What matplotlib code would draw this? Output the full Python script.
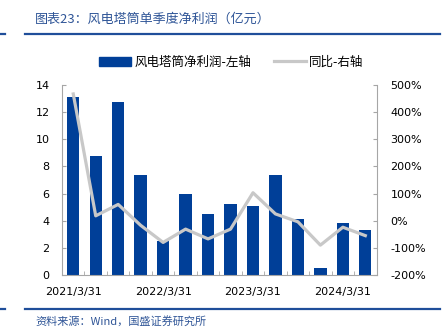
import numpy as np
import matplotlib
matplotlib.use("Agg")
import matplotlib.pyplot as plt
from matplotlib.patches import Patch
from matplotlib.lines import Line2D

plt.rcParams['font.family'] = ['Noto Sans CJK SC', 'DejaVu Sans']
plt.rcParams['axes.unicode_minus'] = False

# quarterly data
quarters = ['2021/3/31', '2021/6/30', '2021/9/30', '2021/12/31',
            '2022/3/31', '2022/6/30', '2022/9/30', '2022/12/31',
            '2023/3/31', '2023/6/30', '2023/9/30', '2023/12/31',
            '2024/3/31', '2024/6/30']
profit = [13.1, 8.8, 12.75, 7.4, 2.5, 6.0, 4.5, 5.2, 5.1, 7.4, 4.1, 0.5, 3.8, 3.3]
yoy = [467, 18, 60, -17, -80, -31, -67, -31, 103, 25, -4, -90, -24, -55]

BLUE = '#003F98'
GRAY = '#C8C8C8'
TITLE_BLUE = '#2F5597'
SPINE = '#A6A6A6'

fig = plt.figure(figsize=(4.43, 3.32), dpi=100)
ax = fig.add_axes([0.14, 0.1717, 0.71, 0.5723])
ax2 = ax.twinx()

x = np.arange(len(quarters))
ax.bar(x, profit, width=0.55, color=BLUE, zorder=2)
ax2.plot(x, yoy, color=GRAY, linewidth=2.3, zorder=3)

ax.set_xlim(-0.5, len(quarters) - 0.5)
ax.set_ylim(0, 14)
ax.set_yticks(range(0, 15, 2))
ax2.set_ylim(-200, 500)
ax2.set_yticks(range(-200, 501, 100))
ax2.set_yticklabels([f'{v}%' for v in range(-200, 501, 100)])

ax.set_xticks(x[::4])
ax.set_xticklabels(quarters[::4])
ax.set_xticks(np.arange(-0.5, len(quarters), 1), minor=True)
ax.tick_params(axis='x', which='major', length=0, pad=9, labelsize=8)
ax.tick_params(axis='x', which='minor', direction='in', length=3, color=SPINE)
ax.tick_params(axis='y', direction='in', length=3, color=SPINE, pad=9, labelsize=8)
ax2.tick_params(axis='y', direction='in', length=3, color=SPINE, pad=10, labelsize=8)
for lab in ax.get_xticklabels() + ax.get_yticklabels() + ax2.get_yticklabels():
    lab.set_family('DejaVu Sans')

for a in (ax, ax2):
    a.spines['top'].set_visible(False)
    for s in ('left', 'right', 'bottom'):
        a.spines[s].set_color(SPINE)
        a.spines[s].set_linewidth(0.8)
ax.spines['right'].set_visible(False)
ax2.spines['left'].set_visible(False)
ax2.spines['bottom'].set_visible(False)

handles = [Patch(facecolor=BLUE, edgecolor=BLUE),
           Line2D([], [], color=GRAY, linewidth=2.3)]
fig.legend(handles, ['风电塔筒净利润-左轴', '同比-右轴'], loc='center',
           bbox_to_anchor=(0.522, 0.813), ncol=2, frameon=False, fontsize=9,
           handlelength=2.6, handletextpad=0.25, columnspacing=1.8)

# header and footer
fig.text(35 / 443, 1 - 19 / 332, '图表23：风电塔筒单季度净利润（亿元）', color=TITLE_BLUE,
         fontsize=9.4, style='italic', va='center', ha='left')
fig.text(35 / 443, 1 - 321 / 332, '资料来源：Wind，国盛证券研究所', color=TITLE_BLUE,
         fontsize=8, style='italic', va='center', ha='left')
for yy in (34, 309):
    fig.add_artist(Line2D([25 / 443, 440 / 443], [1 - yy / 332] * 2,
                          color='#1F4E9A', linewidth=1.6))
    fig.add_artist(Line2D([0, 5 / 443], [1 - yy / 332] * 2,
                          color='#1F4E9A', linewidth=1.6))

fig.savefig('out.png', dpi=100)
